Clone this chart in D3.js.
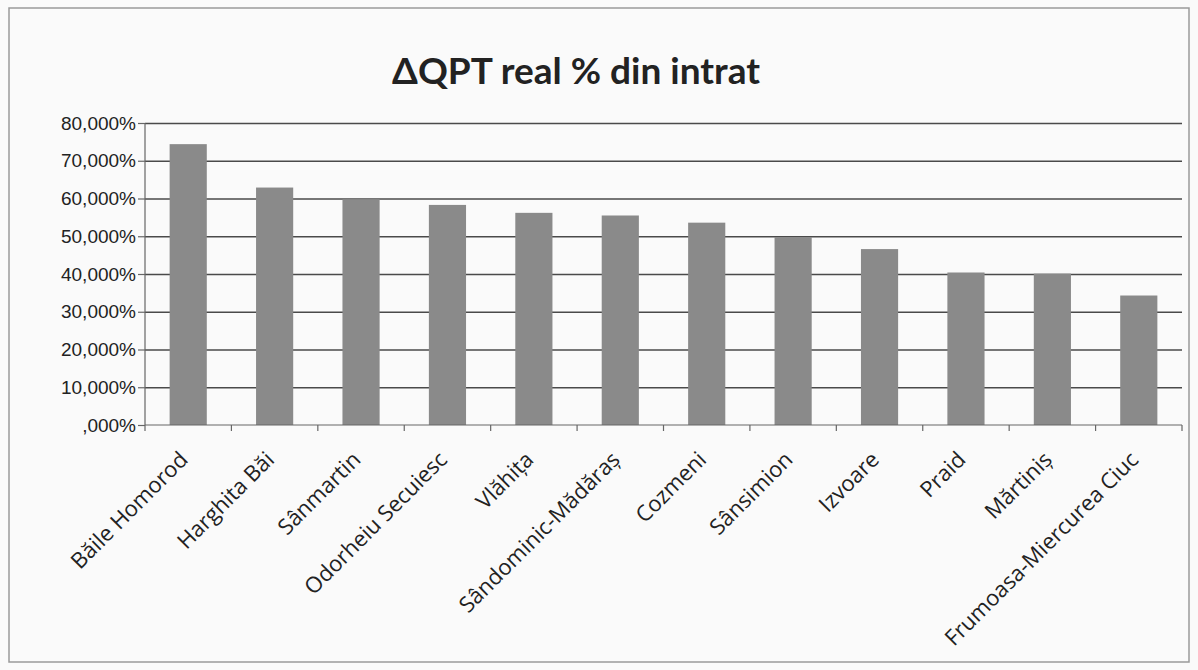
<!DOCTYPE html>
<html lang="ro">
<head>
  <meta charset="UTF-8">
  <title>ΔQPT real % din intrat</title>
  <script src="https://d3js.org/d3.v7.min.js"></script>
  <style>
    html, body { margin: 0; padding: 0; background: #fafafa; }
    svg { display: block; font-family: "Open Sans", Lato, sans-serif; }
    .grid line { stroke: #4a4a4a; stroke-width: 1.5px; }
    .grid .domain { display: none; }
    .axis text { fill: #222; }
    .axis line, .axis path { stroke: #666; stroke-width: 1.2px; }
  </style>
</head>
<body>
  <svg width="1198" height="670"></svg>
  <script>
    const categories = ["Băile Homorod", "Harghita Băi", "Sânmartin", "Odorheiu Secuiesc", "Vlăhița",
                        "Sândominic-Mădăraș", "Cozmeni", "Sânsimion", "Izvoare", "Praid", "Mărtiniș",
                        "Frumoasa-Miercurea Ciuc"];
    const values = [74.4, 62.9, 59.8, 58.3, 56.2, 55.5, 53.6, 49.8, 46.6, 40.4, 40.1, 34.3];
    const yTicks = [0, 10, 20, 30, 40, 50, 60, 70, 80];

    const svg = d3.select("svg");
    const W = 1198, H = 670;
    const margin = { left: 145, right: 1182, top: 123, bottom: 425 };

    // outer chart frame
    svg.append("rect").attr("x", 9).attr("y", 8).attr("width", W - 18).attr("height", H - 16)
      .attr("fill", "#fafafa").attr("stroke", "#9a9a9a").attr("stroke-width", 1.5);

    svg.append("text").attr("x", 576).attr("y", 84).attr("text-anchor", "middle")
      .attr("font-family", "Lato, sans-serif")
      .attr("font-size", 37).attr("font-weight", "bold").attr("fill", "#222")
      .text("ΔQPT real % din intrat");

    const x = d3.scaleBand().domain(categories).range([margin.left, margin.right]).paddingInner(0.57).paddingOuter(0.285);
    const y = d3.scaleLinear().domain([0, 80]).range([margin.bottom, margin.top]);

    // gridlines
    svg.append("g").attr("class", "grid")
      .attr("transform", `translate(${margin.left},0)`)
      .call(d3.axisLeft(y).tickValues(yTicks.slice(1)).tickSize(-(margin.right - margin.left)).tickFormat(""));

    // bars
    svg.append("g").selectAll("rect").data(values).join("rect")
      .attr("x", (d, i) => x(categories[i]))
      .attr("y", d => y(d))
      .attr("width", x.bandwidth())
      .attr("height", d => y(0) - y(d))
      .attr("fill", "#8a8a8a");

    // y axis
    const yAxis = svg.append("g").attr("class", "axis")
      .attr("transform", `translate(${margin.left},0)`)
      .call(d3.axisLeft(y).tickValues(yTicks).tickSize(7).tickPadding(2)
        .tickFormat(d => (d === 0 ? "" : d) + ",000%"));
    yAxis.selectAll("text").attr("font-size", 19);
    yAxis.select(".domain").attr("d", `M0,${margin.top}V${margin.bottom}`);

    // x axis with ticks between categories
    const step = x.step();
    const xAxis = svg.append("g").attr("class", "axis")
      .attr("transform", `translate(0,${margin.bottom})`);
    xAxis.append("line").attr("x1", margin.left).attr("x2", margin.right).attr("y1", 0).attr("y2", 0);
    xAxis.selectAll(".sep").data(d3.range(categories.length + 1)).join("line")
      .attr("x1", i => margin.left + i * step).attr("x2", i => margin.left + i * step)
      .attr("y1", 0).attr("y2", 6);
    xAxis.selectAll(".lbl").data(categories).join("text")
      .attr("text-anchor", "end")
      .attr("font-size", 22)
      .attr("transform", d => `translate(${x(d) + x.bandwidth() / 2 + 1},36) rotate(-45)`)
      .text(d => d);
  </script>
</body>
</html>
